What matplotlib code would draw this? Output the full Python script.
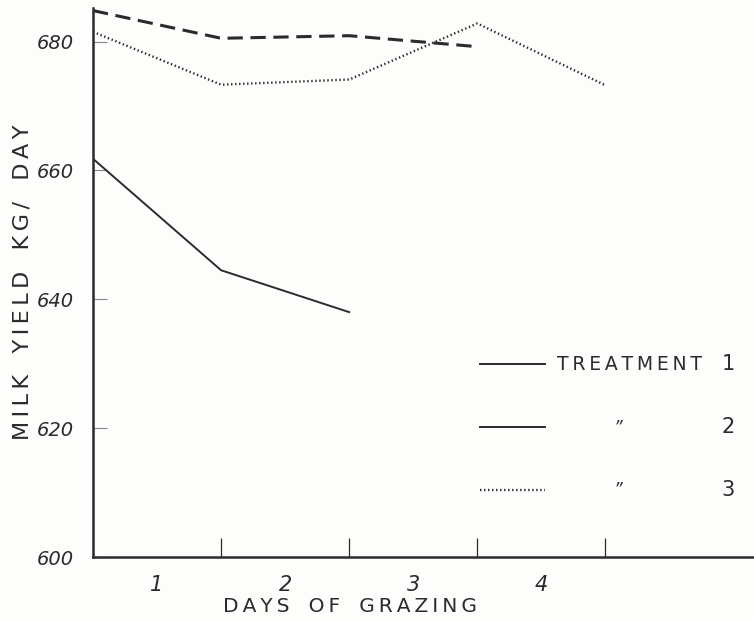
import matplotlib.pyplot as plt
from matplotlib.lines import Line2D

# milk yield (kg/day)
days_t1 = [0, 1, 2]
yield_t1 = [661.8, 644.5, 638.0]
days_t2 = [0, 1, 2, 3]
yield_t2 = [684.8, 680.5, 680.9, 679.2]
days_t3 = [0, 1, 2, 3, 4]
yield_t3 = [681.5, 673.3, 674.1, 682.8, 673.2]

day_labels = ['1', '2', '3', '4']
y_ticks = [600, 620, 640, 660, 680]

ink = '#2b2b2b'
thin = '\u2009'


def spaced(s):
    # letter-spaced lettering like the stencil on the original
    return '   '.join(thin.join(w) for w in s.split(' '))


fig = plt.figure(figsize=(7.54, 6.2), dpi=100, facecolor='#fdfdfc')
ax = fig.add_axes([93 / 754, 63 / 620, 1 - 93 / 754, (557 - 8) / 620])
ax.set_facecolor('#fdfdfc')

ax.plot(days_t1, yield_t1, color=ink, lw=1.4)
ax.plot(days_t2, yield_t2, color=ink, lw=2.2, dashes=(5, 2.5))
ax.plot(days_t3, yield_t3, color=ink, lw=1.7, dashes=(0.6, 1.1))

ax.set_xlim(0, 5.16)
ax.set_ylim(600, 685.2)

for s in ['top', 'right']:
    ax.spines[s].set_visible(False)
for s in ['left', 'bottom']:
    ax.spines[s].set_linewidth(1.8)
    ax.spines[s].set_color(ink)

# day boundaries as inward ticks, day numbers centred between them
ax.set_xticks([1, 2, 3, 4])
ax.set_xticklabels([])
ax.tick_params(axis='x', which='major', direction='in', length=14, width=0.9, color=ink)
ax.set_xticks([0.5, 1.5, 2.5, 3.5], minor=True)
ax.set_xticklabels(day_labels, minor=True, fontsize=15, style='italic', color=ink)
ax.tick_params(axis='x', which='minor', length=0, pad=13)

ax.set_yticks(y_ticks)
ax.set_yticklabels([str(v) for v in y_ticks], fontsize=14, style='italic', color=ink)
ax.tick_params(axis='y', direction='in', length=10, width=0.8, color='#888888', pad=14)

ax.set_xlabel(spaced('DAYS OF GRAZING'), fontsize=14.5, color=ink)
ax.xaxis.set_label_coords((350 - 93) / 661, (557 - 597) / 549)
ax.set_ylabel(spaced('MILK YIELD KG/ DAY'), fontsize=16, color=ink)
ax.yaxis.set_label_coords((33 - 93) / 661, (557 - 282) / 549)

# hand-drawn style legend
tr = ax.transAxes


def ax_xy(px, py):
    return (px - 93) / (754 - 93), (557 - py) / (557 - 8)


styles = [dict(lw=1.4), dict(lw=1.4), dict(lw=1.7, dashes=(0.6, 1.1))]
rows = [364, 427, 490]
for st, py in zip(styles, rows):
    x0, y0 = ax_xy(480, py)
    x1, _ = ax_xy(545, py)
    ax.add_line(Line2D([x0, x1], [y0, y0], transform=tr, color=ink, **st))

x, y = ax_xy(557, 364)
ax.text(x, y, thin.join('TREATMENT'), transform=tr, fontsize=13.5, color=ink, va='center')
for num, py in zip(['1', '2', '3'], rows):
    x, y = ax_xy(728, py)
    ax.text(x, y, num, transform=tr, fontsize=15, color=ink, va='center', ha='center')
for py in rows[1:]:
    x, y = ax_xy(618, py)
    ax.text(x, y, '\u201d', transform=tr, fontsize=12, style='italic', color=ink, va='center', ha='center')

fig.savefig('out.png', dpi=100, facecolor=fig.get_facecolor())
